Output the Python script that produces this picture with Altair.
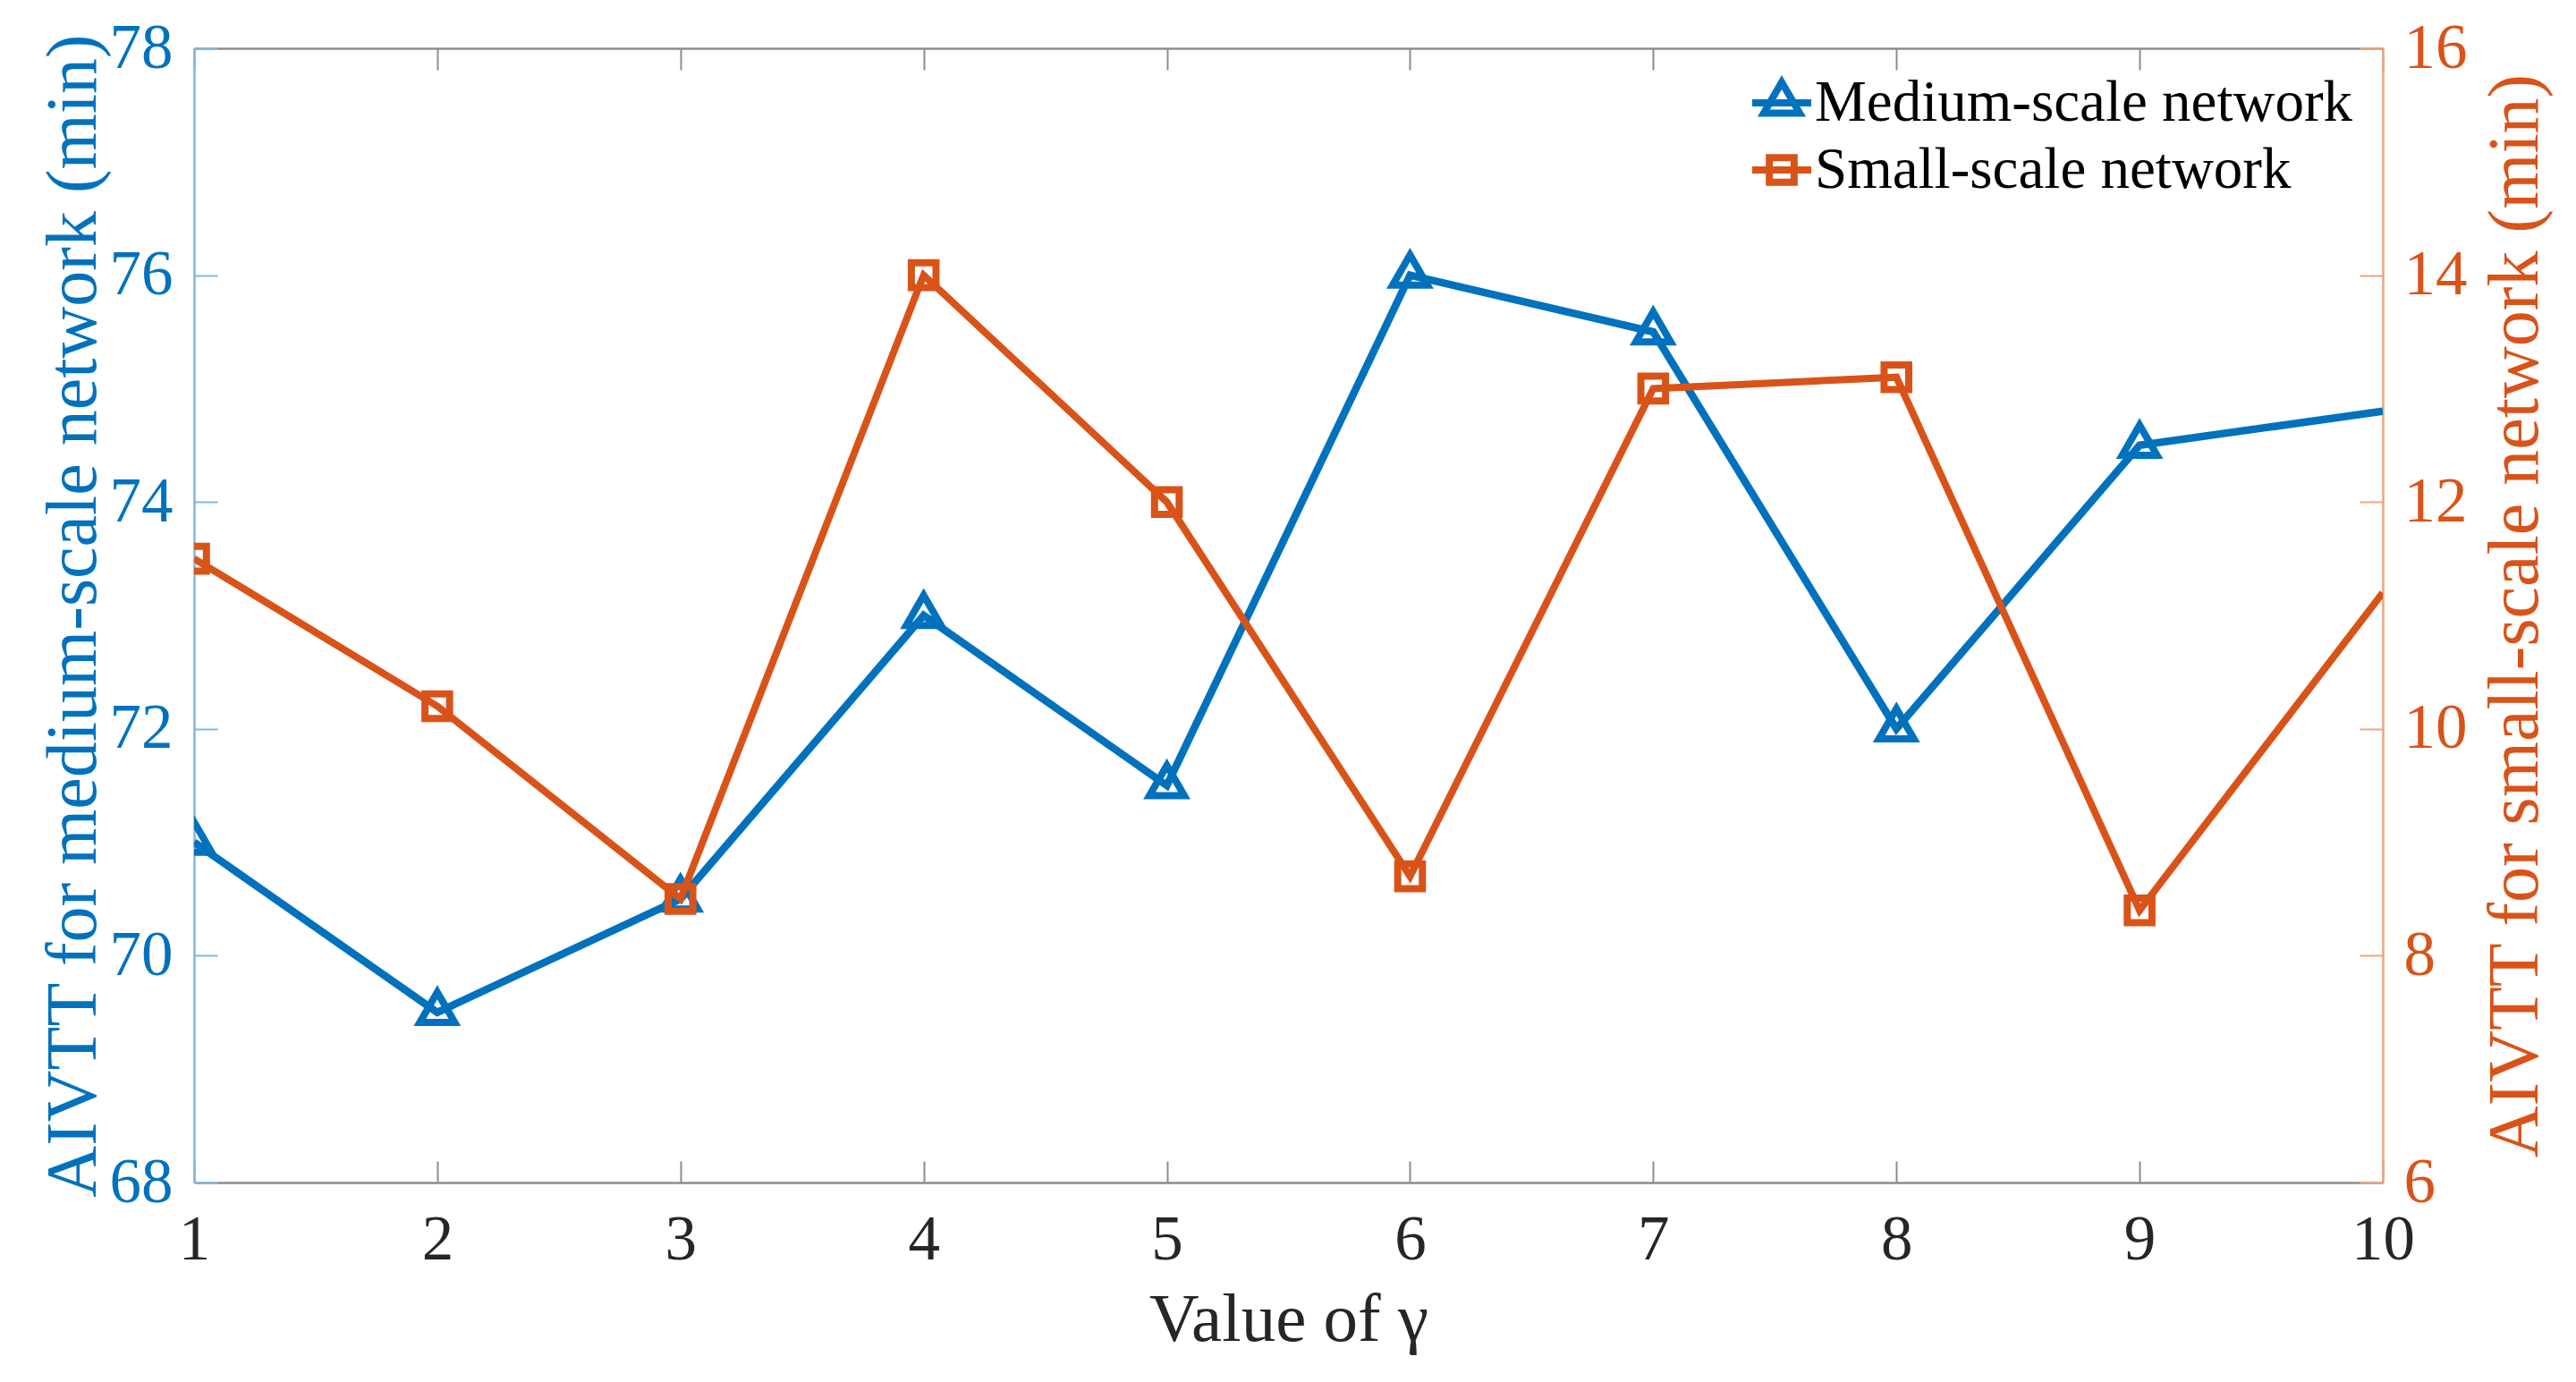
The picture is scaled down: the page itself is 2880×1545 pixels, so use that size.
import altair as alt
import pandas as pd

# ---- data ----
gamma = [1, 2, 3, 4, 5, 6, 7, 8, 9, 10]
medium = [71.0, 69.5, 70.5, 73.0, 71.5, 76.0, 75.5, 72.0, 74.5, 74.8]
small = [11.5, 10.2, 8.5, 14.0, 12.0, 8.7, 13.0, 13.1, 8.4, 11.2]
series_names = ["Medium-scale network", "Small-scale network"]
x_ticks = [1, 2, 3, 4, 5, 6, 7, 8, 9, 10]
left_ticks = [68, 70, 72, 74, 76, 78]
right_ticks = [6, 8, 10, 12, 14, 16]

BLUE = "#0072BD"
ORANGE = "#D95319"
LBLUE = "#80b7e2"
LORANGE = "#eca582"
GRAY = "#8c8c8c"
DARK = "#262626"
FONT = "'Liberation Serif', 'Times New Roman', 'DejaVu Serif', serif"

W, H = 2447, 1268

df = pd.DataFrame({
    "gamma": gamma * 2,
    "series": [series_names[0]] * len(gamma) + [series_names[1]] * len(gamma),
    "value": medium + small,
})

xscale = alt.Scale(domain=[1, 10], nice=False, zero=False)

x_bottom = alt.X("gamma:Q", scale=xscale, axis=alt.Axis(
    orient="bottom", values=x_ticks, format="d", grid=False,
    labelFont=FONT, labelFontSize=71, labelColor=DARK, labelPadding=53,
    labelFlush=False, labelOverlap=False,
    tickSize={"expr": "-24"}, tickColor=GRAY, tickWidth=2,
    domainColor=GRAY, domainWidth=2.5,
    title="Value of γ", titleFont=FONT, titleFontSize=77, titleFontWeight="normal",
    titleColor=DARK, titleX=W / 2, titleY=176, titleBaseline="alphabetic", titleAlign="center"))

x_top = alt.X("gamma:Q", scale=xscale, axis=alt.Axis(
    orient="top", values=x_ticks, labels=False, grid=False, title=None,
    tickSize={"expr": "-24"}, tickColor=GRAY, tickWidth=2,
    domainColor=GRAY, domainWidth=2.5))

y_left = alt.Y("value:Q", scale=alt.Scale(domain=[68, 78], nice=False, zero=False), axis=alt.Axis(
    orient="left", values=left_ticks, grid=False,
    labelFont=FONT, labelFontSize=71, labelColor=BLUE, labelPadding=50,
    tickSize={"expr": "-26"}, tickColor=LBLUE, tickWidth=2,
    domainColor=LBLUE, domainWidth=2.5,
    title="AIVTT for medium-scale network (min)", titleFont=FONT, titleFontSize=80,
    titleFontWeight="normal", titleColor=BLUE, titleAngle=270,
    titleX=-111, titleY=H / 2, titleBaseline="alphabetic", titleAlign="center"))

y_right = alt.Y("value:Q", scale=alt.Scale(domain=[6, 16], nice=False, zero=False), axis=alt.Axis(
    orient="right", values=right_ticks, grid=False,
    labelFont=FONT, labelFontSize=71, labelColor=ORANGE, labelPadding=49,
    tickSize={"expr": "-26"}, tickColor=LORANGE, tickWidth=2,
    domainColor=LORANGE, domainWidth=2.5,
    title="AIVTT for small-scale network (min)", titleFont=FONT, titleFontSize=80,
    titleFontWeight="normal", titleColor=ORANGE, titleAngle=270,
    titleX=172, titleY=H / 2, titleBaseline="alphabetic", titleAlign="center"))

# marker shapes (triangle centred on its centroid, like the reference)
tri_marker = "M0,-1.155L1,0.577L-1,0.577Z"
# legend symbols: short line with the marker on it
tri_path = "M-1,0H1M0,-0.70L0.61,0.35L-0.61,0.35Z"
sq_path = "M-1,0H1M-0.42,-0.42H0.42V0.42H-0.42Z"

legend = alt.Legend(
    orient="none", legendX=1738, legendY=24, padding=0, title=None,
    labelFont=FONT, labelFontSize=65, labelColor="black", labelOffset=0,
    labelLimit=0,
    symbolSize=4356, symbolStrokeWidth=8, symbolOpacity=1, rowPadding=5)

base_m = alt.Chart(df).transform_filter(
    alt.datum.series == series_names[0]).encode(x=x_bottom, y=y_left)
base_s = alt.Chart(df).transform_filter(
    alt.datum.series == series_names[1]).encode(x=x_top, y=y_right)

m_line = base_m.mark_line(color=BLUE, strokeWidth=8.5, clip=True)
m_pts = base_m.transform_filter(alt.datum.gamma < 10).mark_point(
    shape=tri_marker, size=1520, filled=False, strokeWidth=8, color=BLUE,
    opacity=1, clip=True)
m_leg = base_m.mark_point(filled=False, opacity=0, clip=True).encode(
    color=alt.Color("series:N", scale=alt.Scale(domain=series_names, range=[BLUE, ORANGE]),
                    legend=legend),
    shape=alt.Shape("series:N", scale=alt.Scale(domain=series_names, range=[tri_path, sq_path]),
                    legend=legend),
)

s_line = base_s.mark_line(color=ORANGE, strokeWidth=8, clip=True)
s_pts = base_s.transform_filter(alt.datum.gamma < 10).mark_point(
    shape="square", size=760, filled=False, strokeWidth=8, color=ORANGE,
    opacity=1, clip=True)

medium_layer = alt.layer(m_line, m_pts, m_leg)
small_layer = alt.layer(s_line, s_pts)

chart = alt.layer(medium_layer, small_layer).resolve_scale(
    y="independent"
).resolve_axis(
    x="independent", y="independent"
).properties(
    width=W, height=H,
    autosize=alt.AutoSizeParams(type="none"),
    padding={"left": 209, "top": 46, "right": 200, "bottom": 200},
).configure_view(stroke=None).configure(font=FONT)

chart.save("out.html", embed_options={"renderer": "svg", "actions": False})
